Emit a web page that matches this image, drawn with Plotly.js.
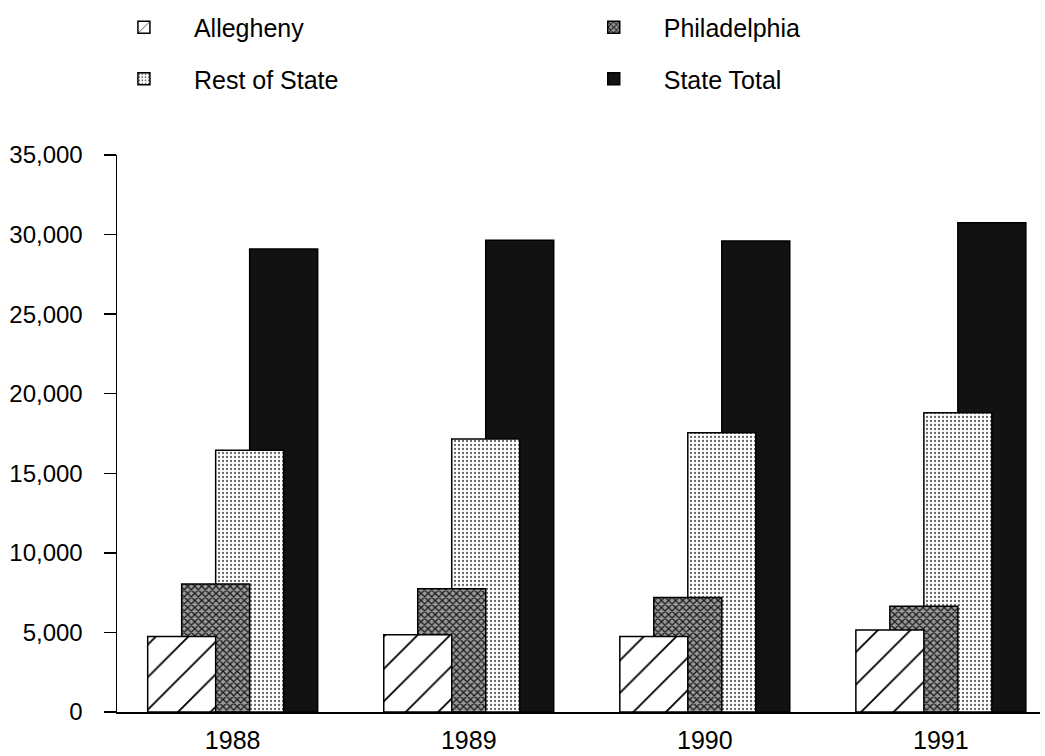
<!DOCTYPE html>
<html>
<head>
<meta charset="utf-8">
<script src="https://cdn.plot.ly/plotly-3.0.1.min.js"></script>
<style>html,body{margin:0;padding:0;background:#fff;}#chart{width:1045px;height:756px;}</style>
</head>
<body>
<div id="chart"></div>
<script>
var years = ['1988', '1989', '1990', '1991'];
var allegheny = [4750, 4850, 4750, 5150];
var philadelphia = [8050, 7750, 7200, 6650];
var restOfState = [16450, 17150, 17550, 18800];
var stateTotal = [29100, 29650, 29600, 30750];
var yTicks = [0, 5000, 10000, 15000, 20000, 25000, 30000, 35000];

var W = 0.288;
function bar(name, vals, offset, pattern, color, legend, rank) {
  return {
    type: 'bar', name: name, x: years, y: vals,
    width: W, offset: offset,
    legend: legend, legendgroup: name, legendrank: rank,
    marker: {
      color: color,
      line: {color: '#000', width: 1.5},
      pattern: pattern
    },
    hoverinfo: 'x+y+name'
  };
}

var data = [
  bar('State Total', stateTotal, 0.072, {shape: '', fgcolor: '#000'}, '#121212', 'legend2', 4),
  bar('Rest of State', restOfState, -0.072, {shape: '.', size: 4, solidity: 0.25, fgcolor: '#666', bgcolor: '#fff', fillmode: 'replace'}, '#fff', 'legend', 3),
  bar('Philadelphia', philadelphia, -0.216, {shape: 'x', size: 5, solidity: 0.45, fgcolor: '#1a1a1a', bgcolor: '#9a9a9a', fillmode: 'replace'}, '#555', 'legend2', 2),
  bar('Allegheny', allegheny, -0.36, {shape: '/', size: 23, solidity: 0.08, fgcolor: '#000', bgcolor: '#fff', fillmode: 'replace'}, '#fff', 'legend', 1)
];

var family = 'Liberation Sans, Arial, sans-serif';

var layout = {
  width: 1045, height: 756,
  margin: {l: 117, r: 5, t: 153, b: 44},
  paper_bgcolor: '#fff', plot_bgcolor: '#fff',
  barmode: 'overlay',
  font: {family: family, color: '#000', size: 24},
  showlegend: true,
  legend: {
    x: -0.025, y: 1.27, xanchor: 'left', yanchor: 'top',
    orientation: 'v', traceorder: 'grouped', tracegroupgap: 16,
    font: {family: family, size: 25, color: '#000'},
    bgcolor: 'rgba(0,0,0,0)', itemwidth: 90
  },
  legend2: {
    x: 0.484, y: 1.27, xanchor: 'left', yanchor: 'top',
    orientation: 'v', traceorder: 'grouped', tracegroupgap: 16,
    font: {family: family, size: 25, color: '#000'},
    bgcolor: 'rgba(0,0,0,0)', itemwidth: 90
  },
  xaxis: {
    type: 'category',
    range: [-0.49, 3.42],
    showline: true, linecolor: '#000', linewidth: 1.5,
    ticks: '', showgrid: false, zeroline: false,
    tickfont: {family: family, size: 25, color: '#000'},
    ticklabelstandoff: 5,
    automargin: false, fixedrange: true
  },
  yaxis: {
    range: [0, 35000],
    tickvals: yTicks,
    tickformat: ',d',
    showline: true, linecolor: '#000', linewidth: 1.5,
    ticks: 'outside', ticklen: 12, tickwidth: 1.5, tickcolor: '#000',
    showgrid: false, zeroline: false,
    tickfont: {family: family, size: 24, color: '#000'},
    ticklabelstandoff: 16,
    automargin: false, fixedrange: true
  }
};

Plotly.newPlot('chart', data, layout, {displayModeBar: false, staticPlot: true});
</script>
</body>
</html>
